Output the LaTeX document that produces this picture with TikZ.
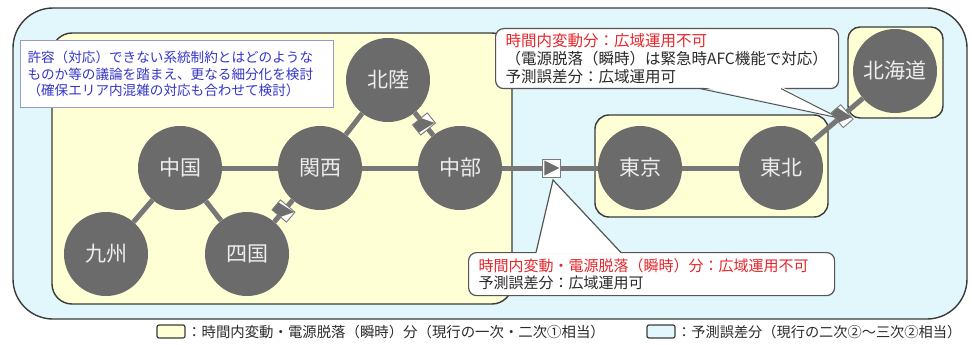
\documentclass[tikz,border=0pt]{standalone}
\usepackage{fontspec}
\setmainfont{Noto Sans CJK JP}
\usetikzlibrary{calc}
\definecolor{outerfill}{HTML}{E2F7FB}
\definecolor{yelfill}{HTML}{FFFFD6}
\definecolor{boxline}{HTML}{3A3A3A}
\definecolor{circfill}{HTML}{6B6B6B}
\definecolor{circtext}{HTML}{EDEDED}
\definecolor{linkcol}{HTML}{777777}
\definecolor{convborder}{HTML}{7A7A7A}
\definecolor{convfill}{HTML}{6E6E6E}
\definecolor{bluetext}{HTML}{3535C8}
\definecolor{bluebox}{HTML}{9A9AC8}
\definecolor{redtext}{HTML}{E8262C}
\definecolor{darktext}{HTML}{2A2A2A}
\definecolor{callline}{HTML}{555555}
\tikzset{
  region/.style={circle, fill=circfill, minimum size=84pt, inner sep=0pt,
    text=circtext, font=\fontsize{21}{21}\selectfont},
  link/.style={draw=linkcol, line width=5pt},
  conv/.style={rectangle, draw=convborder, fill=white, line width=0.9pt,
    minimum width=13pt, minimum height=19pt, inner sep=0pt,
    path picture={\fill[convfill]
      ([shift={(1.5pt,-1.5pt)}]path picture bounding box.north west) --
      ([shift={(-1.5pt,0pt)}]path picture bounding box.east) --
      ([shift={(1.5pt,1.5pt)}]path picture bounding box.south west) -- cycle;}},
  convh/.style={conv, minimum width=18pt, minimum height=18pt},
  callbox/.style={rectangle, rounded corners=8pt, draw=callline, fill=white,
    line width=1.2pt, align=left, inner xsep=10pt, anchor=north west},
  areabox/.style={draw=boxline, line width=1.4pt}
}
\begin{document}
\begin{tikzpicture}[x=1pt,y=-1pt]
\useasboundingbox (0,0) rectangle (972,345);
% areas
\draw[areabox, fill=outerfill, rounded corners=40pt] (13,8) rectangle (967,319);
\draw[areabox, fill=yelfill, rounded corners=20pt] (52,33) rectangle (512,304);
\draw[areabox, fill=yelfill, rounded corners=14pt] (595,115) rectangle (828,217);
\draw[areabox, fill=yelfill, rounded corners=12pt] (848,27) rectangle (943,118);
% note box
\node[rectangle, draw=bluebox, fill=white, line width=1pt, anchor=north west,
  minimum width=313pt, minimum height=67pt, inner xsep=7pt, text width=299pt,
  align=left, text=bluetext, font=\fontsize{13.6}{16.2}\selectfont] (note) at (20,40)
  {許容（対応）できない系統制約とはどのような\\ものか等の議論を踏まえ、更なる細分化を検討\\（確保エリア内混雑の対応も合わせて検討）};
% regions
\node[region] (hokuriku) at (388,80) {北陸};
\node[region] (chugoku) at (180,168) {中国};
\node[region] (kansai) at (320,168) {関西};
\node[region] (chubu) at (460,168) {中部};
\node[region] (kyushu) at (106,254) {九州};
\node[region] (shikoku) at (247,254) {四国};
\node[region] (tokyo) at (640,168) {東京};
\node[region] (tohoku) at (781,168) {東北};
\node[region] (hokkaido) at (895,71) {北海道};
% callouts
\node[callbox, minimum width=343pt, minimum height=60pt, text width=323pt,
  font=\fontsize{15.5}{18}\selectfont] (call1) at (495,28)
  {\textcolor{redtext}{時間内変動分：広域運用不可}\\\textcolor{darktext}{（電源脱落（瞬時）は緊急時AFC機能で対応）}\\\textcolor{darktext}{予測誤差分：広域運用可}};
\node[callbox, minimum width=366pt, minimum height=43pt, text width=346pt,
  font=\fontsize{15}{17.5}\selectfont] (call2) at (468,252)
  {\textcolor{redtext}{時間内変動・電源脱落（瞬時）分：広域運用不可}\\\textcolor{darktext}{予測誤差分：広域運用可}};
\coordinate (tip1) at (839,118);
\coordinate (tip2) at (553,180);
\fill[white] (700,86.5) -- (tip1) -- (781,86.5) -- cycle;
\draw[callline, line width=1pt, line join=miter] (700,88.6) -- (tip1) -- (781,88.6);
\fill[white] (536,253.5) -- (tip2) -- (621,253.5) -- cycle;
\draw[callline, line width=1.2pt] (536,252.6) -- (tip2) -- (621,252.6);
% links
\draw[link] (chugoku) -- (kansai);
\draw[link] (kansai) -- (chubu);
\draw[link] (kansai) -- (hokuriku);
\draw[link] (chugoku) -- (kyushu);
\draw[link] (chugoku) -- (shikoku);
\draw[link] (tokyo) -- (tohoku);
\draw[link] (hokuriku) -- node[conv, sloped, pos=0.5] (cv1) {} (chubu);
\draw[link] (kansai) -- node[conv, sloped, pos=0.5] (cv2) {} (shikoku);
\draw[link] (chubu) -- node[convh, pos=0.52] (cv3) {} (tokyo);
\draw[link] (tohoku) -- node[conv, sloped, pos=0.58] (cv4) {} (hokkaido);
% legend
\draw[boxline, line width=1.2pt, fill=yelfill, rounded corners=2pt] (157,325) rectangle (185,338);
\node[anchor=west, inner sep=0pt, text=darktext, font=\fontsize{14.4}{14.4}\selectfont] (leg1) at (187,332)
  {：時間内変動・電源脱落（瞬時）分（現行の一次・二次①相当）};
\draw[boxline, line width=1.2pt, fill=outerfill, rounded corners=2pt] (647,325) rectangle (675,338);
\node[anchor=west, inner sep=0pt, text=darktext, font=\fontsize{14.2}{14.2}\selectfont] (leg2) at (677,332)
  {：予測誤差分（現行の二次②～三次②相当）};
\end{tikzpicture}
\end{document}
